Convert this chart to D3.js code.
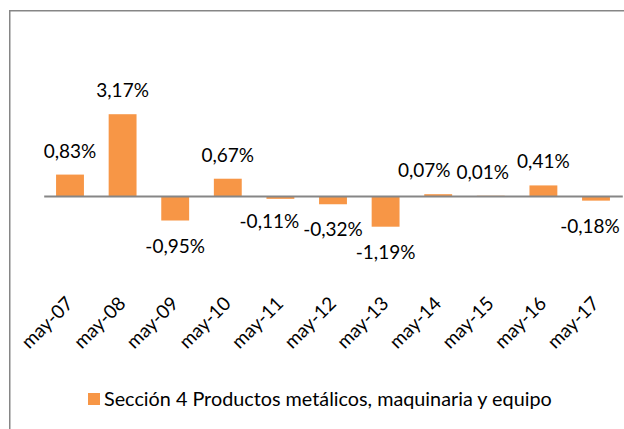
<!DOCTYPE html>
<html>
<head>
<meta charset="utf-8">
<script src="https://cdn.jsdelivr.net/npm/d3@7"></script>
<style>
  html, body { margin: 0; padding: 0; background: #fff; }
  svg { display: block; }
  text { font-family: Lato, "Open Sans", sans-serif; fill: #000; }
</style>
</head>
<body>
<svg id="chart" width="624" height="429"></svg>
<script>
const categories = ["may-07","may-08","may-09","may-10","may-11","may-12","may-13","may-14","may-15","may-16","may-17"];
const values = [0.83, 3.17, -0.95, 0.67, -0.11, -0.32, -1.19, 0.07, 0.01, 0.41, -0.18];
const valueLabels = ["0,83%","3,17%","-0,95%","0,67%","-0,11%","-0,32%","-1,19%","0,07%","0,01%","0,41%","-0,18%"];
const seriesName = "Sección 4 Productos metálicos, maquinaria y equipo";

const W = 624, H = 429;
const svg = d3.select("#chart");
const fontSize = 19;
const barColor = "#F79646";
const axisColor = "#868686";

// chart frame (extends beyond the visible area on the right and bottom)
svg.append("rect")
  .attr("x", 9.75).attr("y", 10.75)
  .attr("width", W + 20).attr("height", H + 20)
  .attr("fill", "none").attr("stroke", axisColor).attr("stroke-width", 1.5);

const x = d3.scaleBand()
  .domain(categories)
  .range([43.7, 622.3])
  .paddingInner(0.47)
  .paddingOuter(0.235);

const pxPerUnit = 25.8;
const zeroY = 196;
const y = d3.scaleLinear()
  .domain([-1.5, 3.5])
  .range([zeroY + 1.5 * pxPerUnit, zeroY - 3.5 * pxPerUnit]);

const data = categories.map((c, i) => ({ c, v: values[i], label: valueLabels[i] }));

// bars
svg.append("g").selectAll("rect")
  .data(data)
  .join("rect")
  .attr("x", d => x(d.c))
  .attr("width", x.bandwidth())
  .attr("y", d => Math.min(y(d.v), y(0)))
  .attr("height", d => Math.abs(y(d.v) - y(0)))
  .attr("fill", barColor);

// zero axis line
const xAxis = d3.axisBottom(x).tickSize(0).tickFormat("");
const axisG = svg.append("g")
  .attr("transform", `translate(0,${y(0)})`)
  .call(xAxis);
axisG.select(".domain").attr("stroke", axisColor).attr("stroke-width", 2);

// data labels (nudges replicate manually moved labels in the original)
const nudge = { "may-11": [-11, -3], "may-14": [-14, 0], "may-15": [-8, 0], "may-17": [-6, 0] };
svg.append("g").selectAll("text")
  .data(data)
  .join("text")
  .attr("x", d => x(d.c) + x.bandwidth() / 2 + (nudge[d.c] ? nudge[d.c][0] : 0))
  .attr("y", d => (d.v >= 0 ? y(d.v) - 17 : y(d.v) + 32) + (nudge[d.c] ? nudge[d.c][1] : 0))
  .attr("text-anchor", "middle")
  .attr("font-size", fontSize)
  .text(d => d.label);

// category labels (rotated, at the bottom of the plot area)
const labelY = 309;
const catAxis = d3.axisBottom(x).tickSize(0).tickPadding(0);
const catG = svg.append("g")
  .attr("transform", `translate(0,${labelY})`)
  .call(catAxis);
catG.select(".domain").remove();
catG.selectAll(".tick text")
  .attr("font-size", fontSize)
  .attr("font-family", 'Lato, "Open Sans", sans-serif')
  .attr("fill", "#000")
  .attr("text-anchor", "end")
  .attr("x", 6).attr("y", 0).attr("dy", 0)
  .attr("transform", "rotate(-45)");

// legend
const lg = svg.append("g").attr("transform", "translate(88,393)");
lg.append("rect").attr("width", 12).attr("height", 12).attr("fill", barColor);
lg.append("text")
  .attr("x", 16).attr("y", 12.5)
  .attr("font-size", 19.8)
  .text(seriesName);
</script>
</body>
</html>
